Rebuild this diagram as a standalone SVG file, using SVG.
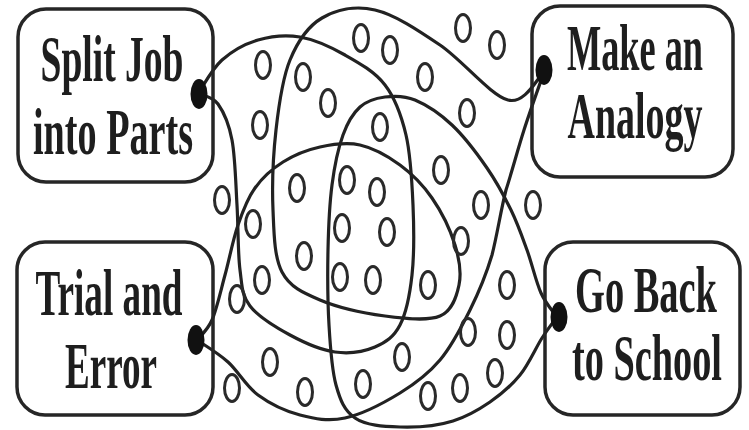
<svg xmlns="http://www.w3.org/2000/svg" width="749" height="430" viewBox="0 0 749 430">
<style>
.box{fill:none;stroke:#262626;stroke-width:3.5}
.lbl{font-family:"Liberation Serif","Times New Roman",serif;font-weight:bold;font-size:66px;fill:#1e1e1e;text-anchor:middle}
.dot{fill:#111}
.c{fill:none;stroke:#222;stroke-width:3.2;stroke-linecap:round;stroke-linejoin:round}
.o{fill:none;stroke:#2a2a2a;stroke-width:3}
</style>
<rect width="749" height="430" fill="#fff"/>
<g id="connectors">
<path id="loop-split" class="c" d="M199,92 C202.8,86.7 212.2,68.7 222,60 C231.8,51.3 245,43.8 258,40 C271,36.2 285.5,34.5 300,37 C314.5,39.5 330.8,47 345,55 C359.2,63 374.8,71.7 385,85 C395.2,98.3 401.3,115 406,135 C410.7,155 412,181.7 413,205 C414,228.3 414.2,255 412,275 C409.8,295 406.2,313 400,325 C393.8,337 385.8,342.5 375,347 C364.2,351.5 349.2,354 335,352 C320.8,350 304.2,342.7 290,335 C275.8,327.3 258.3,316.8 250,306 C241.7,295.2 242.2,286.8 240,270 C237.8,253.2 238.3,226.7 237,205 C235.7,183.3 235.2,156.8 232,140 C228.8,123.2 223.5,111.7 218,104 C212.5,96.3 202.2,95.7 199,94"/>
<path id="analogy-trial-upper" class="c" d="M544,72 C538,76.7 525.3,104.5 508,100 C490.7,95.5 462.2,60 440,45 C417.8,30 394.7,14.5 375,10 C355.3,5.5 336.2,9.7 322,18 C307.8,26.3 297.7,41.3 290,60 C282.3,78.7 278.8,105 276,130 C273.2,155 272,186.3 273,210 C274,233.7 274.2,257 282,272 C289.8,287 302.8,292.7 320,300 C337.2,307.3 365,313.3 385,316 C405,318.7 427.7,321.2 440,316 C452.3,310.8 456.5,296.8 459,285 C461.5,273.2 459.5,259.5 455,245 C450.5,230.5 441.2,211.3 432,198 C422.8,184.7 412,173.8 400,165 C388,156.2 373.3,148 360,145 C346.7,142 332.8,144.2 320,147 C307.2,149.8 293.8,155.2 283,162 C272.2,168.8 262.5,177.5 255,188 C247.5,198.5 243,210.5 238,225 C233,239.5 229.3,259.2 225,275 C220.7,290.8 216.7,309.2 212,320 C207.3,330.8 199.5,336.7 197,340"/>
<path id="trial-analogy-lower" class="c" d="M197,340 C202.2,343.7 217.8,352.8 228,362 C238.2,371.2 246,386.2 258,395 C270,403.8 285.5,411.2 300,415 C314.5,418.8 328.3,421.7 345,418 C361.7,414.3 384.2,402.7 400,393 C415.8,383.3 428.3,373.8 440,360 C451.7,346.2 461.3,327.5 470,310 C478.7,292.5 486,275 492,255 C497.3,234.2 500.7,210.8 506,190 C512.3,170.3 517.7,149.7 524,130 C530.3,110.3 540.7,81.7 544,72"/>
<path id="loop-school" class="c" d="M557,317 C554.3,313 546,304.2 541,293 C536,281.8 532,263.8 527,250 C522,236.2 517.7,223.7 511,210 C504.3,196.3 496.8,182.2 487,168 C477.2,153.8 464,136.3 452,125 C440,113.7 426.2,104.7 415,100 C403.8,95.3 394.2,95.8 385,97 C375.8,98.2 367,100.7 360,107 C353,113.3 347.7,122 343,135 C338.3,148 334.5,165.8 332,185 C329.5,204.2 328.5,226.7 328,250 C327.5,273.3 327.7,302.5 329,325 C330.3,347.5 331.7,369.5 336,385 C340.3,400.5 344.3,410.5 355,418 C365.7,425.5 383.7,426.5 400,427 C416.3,427.5 438,425.7 453,421 C468,416.3 478.8,409.7 490,402 C501.2,394.3 511.3,385.7 520,375 C528.7,364.3 535.8,347.7 542,338 C548.2,328.3 554.5,320.5 557,317"/>
</g>
<g id="ideas">
<ellipse class="o" cx="263" cy="65" rx="7.5" ry="13.5"/>
<ellipse class="o" cx="303" cy="77" rx="7.5" ry="13.5"/>
<ellipse class="o" cx="328" cy="103" rx="7.5" ry="13.5"/>
<ellipse class="o" cx="260" cy="125" rx="7.5" ry="13.5"/>
<ellipse class="o" cx="361" cy="38" rx="7.5" ry="13.5"/>
<ellipse class="o" cx="390" cy="50" rx="7.5" ry="13.5"/>
<ellipse class="o" cx="463" cy="28" rx="7.5" ry="13.5"/>
<ellipse class="o" cx="497" cy="45" rx="7.5" ry="13.5"/>
<ellipse class="o" cx="425" cy="77" rx="7.5" ry="13.5"/>
<ellipse class="o" cx="467" cy="113" rx="7.5" ry="13.5"/>
<ellipse class="o" cx="380" cy="127" rx="7.5" ry="13.5"/>
<ellipse class="o" cx="441" cy="170" rx="7.5" ry="13.5"/>
<ellipse class="o" cx="297" cy="188" rx="7.5" ry="13.5"/>
<ellipse class="o" cx="222" cy="200" rx="7.5" ry="13.5"/>
<ellipse class="o" cx="347" cy="180" rx="7.5" ry="13.5"/>
<ellipse class="o" cx="377" cy="192" rx="7.5" ry="13.5"/>
<ellipse class="o" cx="481" cy="205" rx="7.5" ry="13.5"/>
<ellipse class="o" cx="533" cy="205" rx="7.5" ry="13.5"/>
<ellipse class="o" cx="253" cy="224" rx="7.5" ry="13.5"/>
<ellipse class="o" cx="342" cy="228" rx="7.5" ry="13.5"/>
<ellipse class="o" cx="387" cy="232" rx="7.5" ry="13.5"/>
<ellipse class="o" cx="461" cy="241" rx="7.5" ry="13.5"/>
<ellipse class="o" cx="304" cy="256" rx="7.5" ry="13.5"/>
<ellipse class="o" cx="262" cy="280" rx="7.5" ry="13.5"/>
<ellipse class="o" cx="340" cy="277" rx="7.5" ry="13.5"/>
<ellipse class="o" cx="373" cy="280" rx="7.5" ry="13.5"/>
<ellipse class="o" cx="428" cy="285" rx="7.5" ry="13.5"/>
<ellipse class="o" cx="507" cy="285" rx="7.5" ry="13.5"/>
<ellipse class="o" cx="237" cy="299" rx="7.5" ry="13.5"/>
<ellipse class="o" cx="468" cy="332" rx="7.5" ry="13.5"/>
<ellipse class="o" cx="507" cy="335" rx="7.5" ry="13.5"/>
<ellipse class="o" cx="402" cy="357" rx="7.5" ry="13.5"/>
<ellipse class="o" cx="270" cy="362" rx="7.5" ry="13.5"/>
<ellipse class="o" cx="363" cy="384" rx="7.5" ry="13.5"/>
<ellipse class="o" cx="460" cy="388" rx="7.5" ry="13.5"/>
<ellipse class="o" cx="495" cy="373" rx="7.5" ry="13.5"/>
<ellipse class="o" cx="232" cy="388" rx="7.5" ry="13.5"/>
<ellipse class="o" cx="305" cy="392" rx="7.5" ry="13.5"/>
<ellipse class="o" cx="428" cy="396" rx="7.5" ry="13.5"/>
</g>
<g id="split-job">
<rect class="box" x="18" y="9" width="195" height="173" rx="28"/>
<text class="lbl" transform="translate(112,81) scale(0.58,1)" x="0" y="0" textLength="246.6" lengthAdjust="spacingAndGlyphs">Split Job</text>
<text class="lbl" transform="translate(113,154) scale(0.58,1)" x="0" y="0" textLength="275.9" lengthAdjust="spacingAndGlyphs">into Parts</text>
<ellipse class="dot" cx="199" cy="94" rx="8.5" ry="15"/>
</g>
<g id="make-analogy">
<rect class="box" x="532" y="6" width="201" height="171" rx="28"/>
<text class="lbl" transform="translate(635,70) scale(0.58,1)" x="0" y="0" textLength="234.5" lengthAdjust="spacingAndGlyphs">Make an</text>
<text class="lbl" transform="translate(635,138) scale(0.58,1)" x="0" y="0" textLength="232.8" lengthAdjust="spacingAndGlyphs">Analogy</text>
<ellipse class="dot" cx="544" cy="70" rx="8.5" ry="15"/>
</g>
<g id="trial-error">
<rect class="box" x="17" y="242" width="196" height="173" rx="28"/>
<text class="lbl" transform="translate(109,315) scale(0.58,1)" x="0" y="0" textLength="253.4" lengthAdjust="spacingAndGlyphs">Trial and</text>
<text class="lbl" transform="translate(111,388) scale(0.58,1)" x="0" y="0" textLength="158.6" lengthAdjust="spacingAndGlyphs">Error</text>
<ellipse class="dot" cx="196" cy="340" rx="8.5" ry="15"/>
</g>
<g id="go-back-school">
<rect class="box" x="545" y="242" width="195" height="173" rx="28"/>
<text class="lbl" transform="translate(646,312) scale(0.58,1)" x="0" y="0" textLength="244.8" lengthAdjust="spacingAndGlyphs">Go Back</text>
<text class="lbl" transform="translate(647,380) scale(0.58,1)" x="0" y="0" textLength="258.6" lengthAdjust="spacingAndGlyphs">to School</text>
<ellipse class="dot" cx="559" cy="317" rx="8.5" ry="15"/>
</g>
</svg>
